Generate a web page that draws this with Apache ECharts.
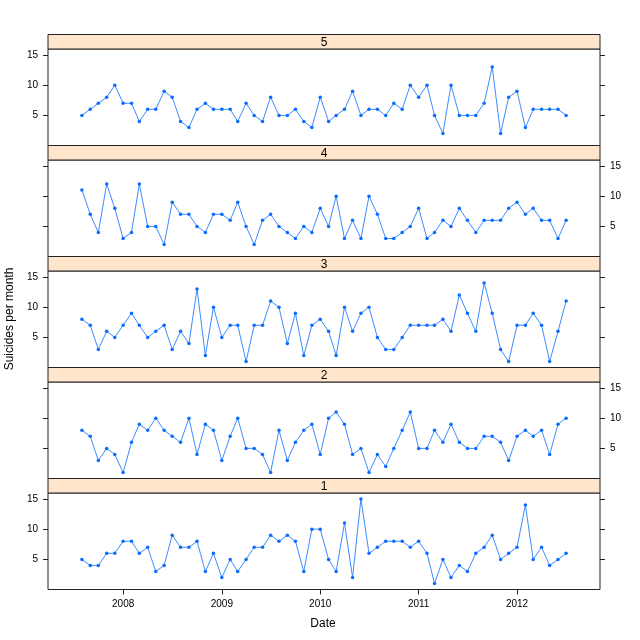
<!DOCTYPE html>
<html>
<head>
<meta charset="utf-8">
<script src="https://cdn.jsdelivr.net/npm/echarts@6/dist/echarts.min.js"></script>
<style>html,body{margin:0;padding:0;background:#fff}#c{width:640px;height:640px}</style>
</head>
<body>
<div id="c"></div>
<script>
// Monthly dates: Aug 2007 .. Jul 2012 (60 months)
const startYear = 2007, startMonth = 7, nMonths = 60;
const dates = [];
for (let i = 0; i < nMonths; i++) {
  const m = startMonth + i;
  dates.push(new Date(startYear + Math.floor(m / 12), m % 12, 1).getTime());
}
const panelLabels = ['5', '4', '3', '2', '1'];
const series5 = [5,6,7,8,10,7,7,4,6,6,9,8,4,3,6,7,6,6,6,4,7,5,4,8,5,5,6,4,3,8,4,5,6,9,5,6,6,5,7,6,10,8,10,5,2,10,5,5,5,7,13,2,8,9,3,6,6,6,6,5];
const series4 = [11,7,4,12,8,3,4,12,5,5,2,9,7,7,5,4,7,7,6,9,5,2,6,7,5,4,3,5,4,8,5,10,3,6,3,10,7,3,3,4,5,8,3,4,6,5,8,6,4,6,6,6,8,9,7,8,6,6,3,6];
const series3 = [8,7,3,6,5,7,9,7,5,6,7,3,6,4,13,2,10,5,7,7,1,7,7,11,10,4,9,2,7,8,6,2,10,6,9,10,5,3,3,5,7,7,7,7,8,6,12,9,6,14,9,3,1,7,7,9,7,1,6,11];
const series2 = [8,7,3,5,4,1,6,9,8,10,8,7,6,10,4,9,8,3,7,10,5,5,4,1,8,3,6,8,9,4,10,11,9,4,5,1,4,2,5,8,11,5,5,8,6,9,6,5,5,7,7,6,3,7,8,7,8,4,9,10];
const series1 = [5,4,4,6,6,8,8,6,7,3,4,9,7,7,8,3,6,2,5,3,5,7,7,9,8,9,8,3,10,10,5,3,11,2,15,6,7,8,8,8,7,8,6,1,5,2,4,3,6,7,9,5,6,7,14,5,7,4,5,6];
const panelData = [series5, series4, series3, series2, series1];
const yTicks = [5, 10, 15];
const xTickYears = [2008, 2009, 2010, 2011, 2012];
const xTicks = xTickYears.map(y => new Date(y, 0, 1).getTime());

// lattice-style 7% padding of the data range
const allVals = [].concat(...panelData);
const yLo = Math.min(...allVals), yHi = Math.max(...allVals);
const yPad = (yHi - yLo) * 0.07;
const xLo = dates[0], xHi = dates[dates.length - 1];
const xPad = (xHi - xLo) * 0.07;

const L = 48, R = 600, stripTop0 = 34.5, stripH = 14.5, panelH = 96.5, step = 111;
const grids = [], xAxes = [], yAxes = [], seriesArr = [], graphics = [];
const FONT = 'Liberation Sans, Arial, sans-serif';

for (let i = 0; i < 5; i++) {
  const st = stripTop0 + step * i;
  const pt = st + stripH;
  grids.push({left: L, width: R - L, top: pt, height: panelH, show: true, borderColor: '#222', borderWidth: 1, backgroundColor: 'transparent'});
  const isTop = i === 0, isBottom = i === 4;
  xAxes.push({
    type: 'value', gridIndex: i, min: xLo - xPad, max: xHi + xPad,
    position: isTop ? 'top' : 'bottom',
    axisLine: {show: false},
    splitLine: {show: false},
    axisTick: {show: isTop || isBottom, length: 5, lineStyle: {color: '#222'}, customValues: xTicks},
    axisLabel: {show: isBottom, margin: 10, fontSize: 10, color: '#000', fontFamily: FONT,
      customValues: xTicks, formatter: v => String(new Date(v).getFullYear())}
  });
  const labelLeft = (i % 2 === 0);
  ['left', 'right'].forEach(side => {
    const showLab = (side === 'left') === labelLeft;
    yAxes.push({
      type: 'value', gridIndex: i, position: side, min: yLo - yPad, max: yHi + yPad,
      axisLine: {show: false}, splitLine: {show: false},
      axisTick: {show: true, length: 5, lineStyle: {color: '#222'}, customValues: yTicks},
      axisLabel: {show: showLab, margin: 10, fontSize: 10, color: '#000', fontFamily: FONT, customValues: yTicks}
    });
  });
  seriesArr.push({
    type: 'line', xAxisIndex: i, yAxisIndex: 2 * i,
    data: dates.map((d, k) => [d, panelData[i][k]]),
    symbol: 'circle', symbolSize: 3.5, showSymbol: true,
    lineStyle: {color: '#3d8cff', width: 1},
    itemStyle: {color: '#0a6cff'},
    animation: false, silent: true
  });
  graphics.push({
    type: 'rect', shape: {x: L, y: st, width: R - L, height: stripH},
    style: {fill: '#ffe5cc', stroke: '#222', lineWidth: 1}, z: 10
  });
  graphics.push({
    type: 'text', x: (L + R) / 2, y: st + stripH / 2 + 0.5,
    style: {text: panelLabels[i], fontSize: 12, fill: '#000', fontFamily: FONT, align: 'center', verticalAlign: 'middle'}, z: 11
  });
}
graphics.push({type: 'text', x: 323, y: 624, style: {text: 'Date', fontSize: 12, fill: '#000', fontFamily: FONT, align: 'center', verticalAlign: 'middle'}});
graphics.push({type: 'text', x: 10, y: 319, rotation: Math.PI / 2, style: {text: 'Suicides per month', fontSize: 12, fill: '#000', fontFamily: FONT, align: 'center', verticalAlign: 'middle'}});

const chart = echarts.init(document.getElementById('c'), null, {renderer: 'canvas'});
chart.setOption({
  animation: false,
  backgroundColor: '#fff',
  grid: grids, xAxis: xAxes, yAxis: yAxes, series: seriesArr, graphic: graphics
});
</script>
</body>
</html>
